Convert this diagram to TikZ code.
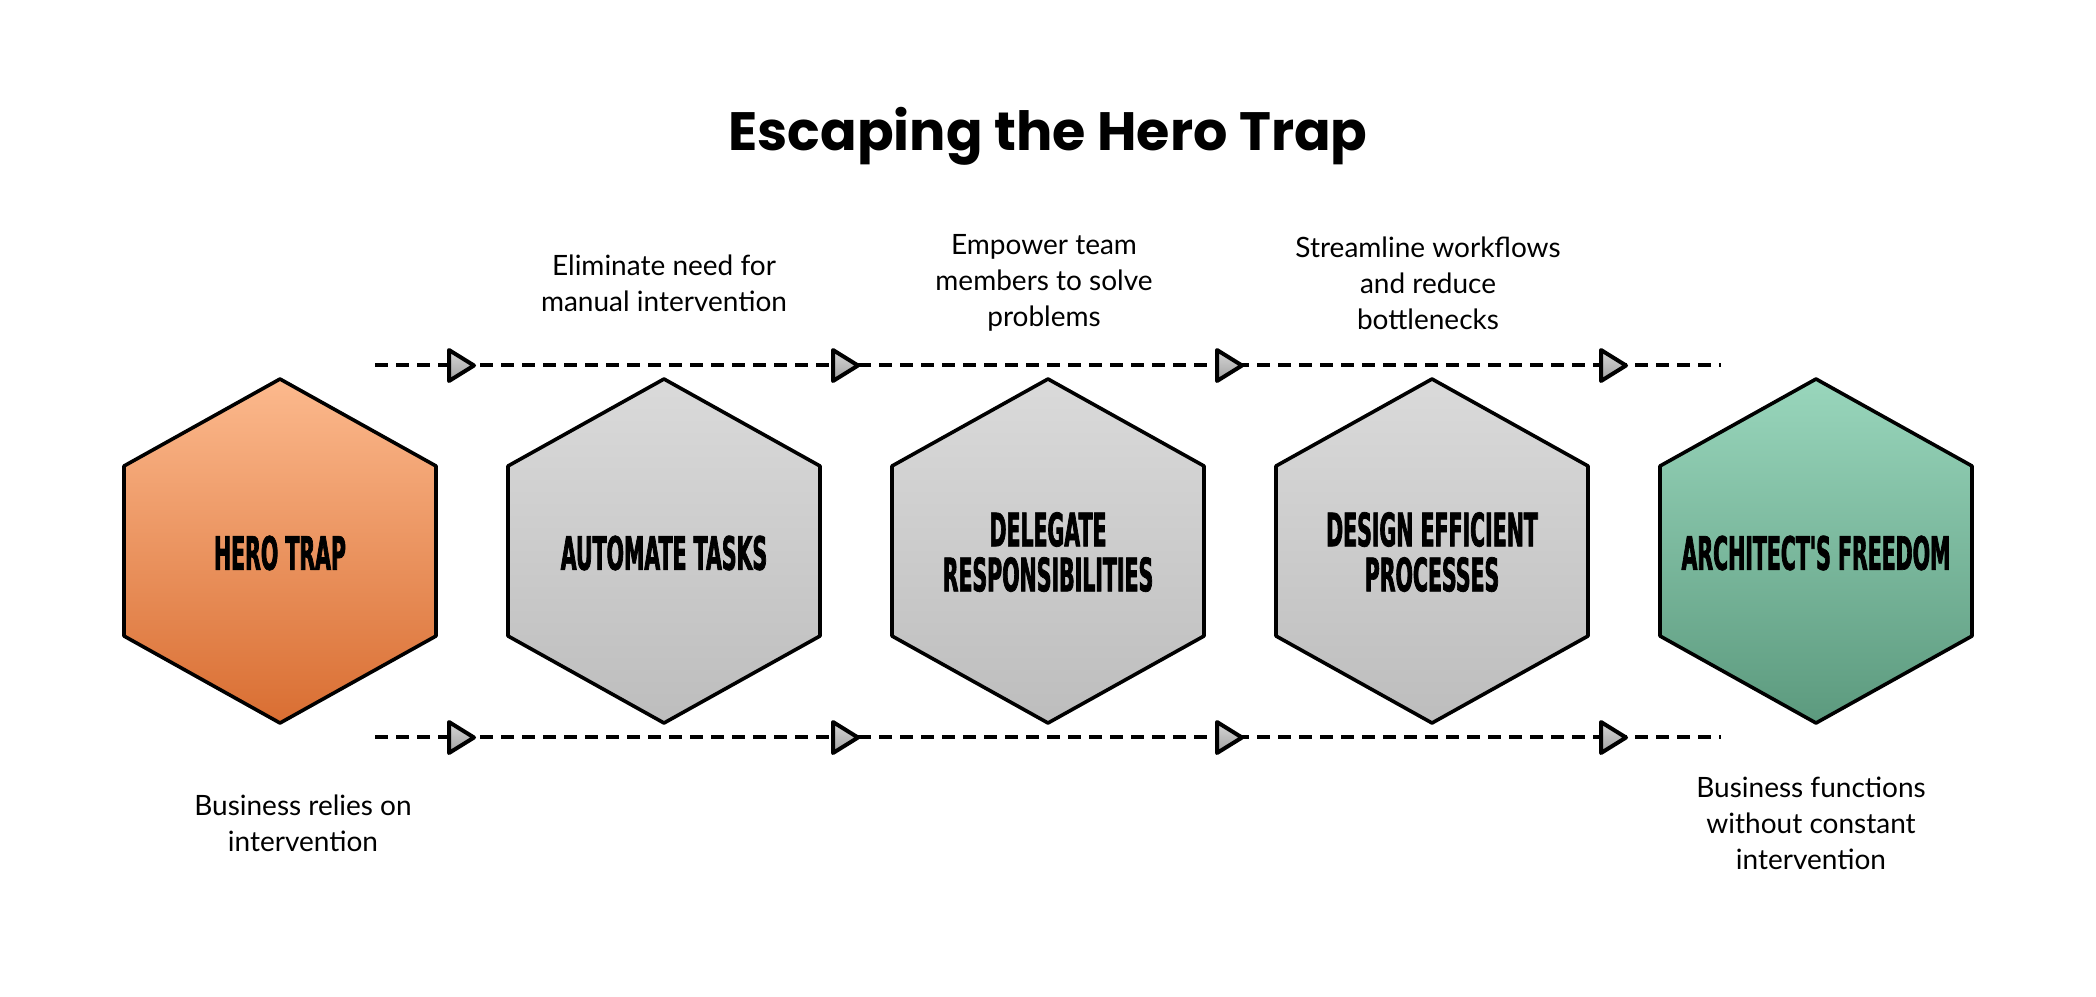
\documentclass[tikz,border=0pt]{standalone}
\usepackage{fontspec}
\setmainfont{Lato}
\newfontfamily\titlefont{Poppins}
\newfontfamily\hexfont{DejaVu Sans}[FakeStretch=0.445,FakeBold=1.5]

\definecolor{heroTop}{RGB}{252,185,141}
\definecolor{heroBot}{RGB}{217,110,50}
\definecolor{stepTop}{RGB}{218,218,218}
\definecolor{stepBot}{RGB}{189,189,189}
\definecolor{freeTop}{RGB}{153,214,188}
\definecolor{freeBot}{RGB}{92,154,126}
\definecolor{tipTop}{RGB}{215,215,215}
\definecolor{tipBot}{RGB}{160,160,160}

\tikzset{
	hexbox/.style={draw=black, line width=1.8pt, line join=round},
	herofill/.style={hexbox, top color=heroTop, bottom color=heroBot},
	stepfill/.style={hexbox, top color=stepTop, bottom color=stepBot},
	freefill/.style={hexbox, top color=freeTop, bottom color=freeBot},
	hexlabel/.style={font=\hexfont\bfseries\fontsize{23}{22.5}\selectfont, align=center},
	note/.style={font=\fontsize{14}{18}\selectfont, align=center},
	flowline/.style={line width=2pt, dash pattern=on 6.5pt off 4pt},
	flowtip/.style={line width=2pt, line join=round, top color=tipTop, bottom color=tipBot},
}

\begin{document}
\begin{tikzpicture}[x=0.5pt,y=0.5pt,yscale=-1,xscale=1]
	\useasboundingbox (0,0) rectangle (2096,996);
	
	% Title
	\node[font=\titlefont\bfseries\fontsize{27}{33}\selectfont, anchor=base] (title) at (1048,150) {Escaping the Hero Trap};
	
	%Straight Lines: dashed flow above and below
	\coordinate (topStart) at (375,365);
	\coordinate (topEnd) at (1721,365);
	\coordinate (botStart) at (375,737);
	\coordinate (botEnd) at (1721,737);
	\draw[flowline] (topStart) -- (topEnd);
	\draw[flowline] (botStart) -- (botEnd);
	
	%Shape: Triangles on the flow
	\foreach \ax in {449,833,1217,1601} {
		\draw[flowtip] (\ax,350) -- (\ax+25,365.5) -- (\ax,381) -- cycle;
		\draw[flowtip] (\ax,722) -- (\ax+25,737.5) -- (\ax,753) -- cycle;
	}
	
	%Shape: Hexagons
	\foreach \cx/\hexstyle in {280/herofill,664/stepfill,1048/stepfill,1432/stepfill,1816/freefill} {
		\draw[\hexstyle] (\cx,379) -- (\cx+156,466) -- (\cx+156,636) -- (\cx,723) -- (\cx-156,636) -- (\cx-156,466) -- cycle;
	}
	
	% Text Node
	\node[hexlabel] (hero) at (280,553) {HERO TRAP};
	% Text Node
	\node[hexlabel] (automate) at (664,553) {AUTOMATE TASKS};
	% Text Node
	\node[hexlabel] (delegate) at (1048,552) {DELEGATE\\RESPONSIBILITIES};
	% Text Node
	\node[hexlabel] (design) at (1432,552) {DESIGN EFFICIENT\\PROCESSES};
	% Text Node
	\node[hexlabel] (freedom) at (1816,553) {ARCHITECT'S FREEDOM};
	
	% Text Node
	\node[note] (automateNote) at (664,283) {Eliminate need for\\manual intervention};
	% Text Node
	\node[note] (delegateNote) at (1044,283) {Empower team\\members to solve\\problems};
	% Text Node
	\node[note] (designNote) at (1428,283) {Streamline workflows\\and reduce\\bottlenecks};
	% Text Node
	\node[note] (heroNote) at (303,823) {Business relies on\\intervention};
	% Text Node
	\node[note] (freedomNote) at (1811,823) {Business functions\\without constant\\intervention};
\end{tikzpicture}
\end{document}
